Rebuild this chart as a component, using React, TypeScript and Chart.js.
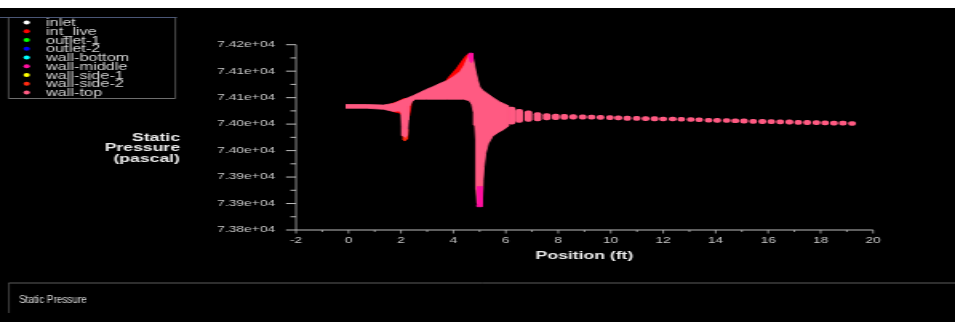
import React, { useEffect, useRef } from 'react';
import { Chart, registerables } from 'chart.js';

Chart.register(...registerables);

// ---------------- data ----------------
const zoneNames = ['inlet', 'int_live', 'outlet-1', 'outlet-2', 'wall-bottom', 'wall-middle', 'wall-side-1', 'wall-side-2', 'wall-top'];
const zoneColors = ['#ffffff', '#ff0000', '#00ff00', '#0000ff', '#00ffff', '#ff10a0', '#ffff00', '#ff2a10', '#ff5a82'];

const xTickValues = [-2, 0, 2, 4, 6, 8, 10, 12, 14, 16, 18, 20];
const xTickLabels = ['-2', '0', '2', '4', '6', '8', '10', '12', '14', '16', '18', '20'];
const yTickValues = [73800, 73850, 73900, 73950, 74000, 74050, 74100, 74150];
const yTickLabels = ['7.38e+04', '7.39e+04', '7.39e+04', '7.40e+04', '7.40e+04', '7.41e+04', '7.41e+04', '7.42e+04'];

const xAxisTitle = 'Position (ft)';
const yAxisTitleLines = ['Static', 'Pressure', '(pascal)'];
const footerText = 'Static Pressure';

// wall-top: outline of the dense point band (position ft, pressure Pa)
const wallTopBand: [number, number][] = [
  [-0.11, 74037], [0.69, 74037], [1.33, 74036], [1.71, 74039], [1.96, 74044], [2.22, 74049], [2.47, 74054],
  [2.73, 74060], [2.98, 74066], [3.23, 74071], [3.49, 74077], [3.74, 74082], [4.0, 74090], [4.25, 74099],
  [4.4, 74110], [4.51, 74122], [4.58, 74130], [4.7, 74131], [4.76, 74121], [4.84, 74102], [4.93, 74083],
  [5.01, 74070], [5.12, 74064], [5.27, 74059], [5.52, 74050], [5.78, 74042], [6.09, 74035],
  [6.09, 73996], [5.93, 73990], [5.71, 73984], [5.5, 73977], [5.33, 73963], [5.23, 73945], [5.17, 73920],
  [5.13, 73894], [5.1, 73863], [5.09, 73850], [4.91, 73850], [4.87, 73876], [4.86, 73920], [4.85, 73970],
  [4.82, 73998], [4.77, 74022], [4.7, 74037], [4.61, 74044], [4.38, 74047], [3.74, 74047], [2.98, 74047],
  [2.54, 74047], [2.41, 74042], [2.32, 74033], [2.28, 74008], [2.24, 73979], [2.17, 73975], [2.07, 73978],
  [2.03, 73995], [2.01, 74020], [1.94, 74025], [1.71, 74024], [1.33, 74028], [0.69, 74030], [-0.11, 74030],
];

// wall-top: separated point columns downstream (position, low edge, high edge)
const tailX = [6.22, 6.51, 6.86, 7.21, 7.56, 7.9, 8.23, 8.57, 8.93, 9.27, 9.61, 9.97, 10.29, 10.63, 10.99, 11.33, 11.67, 12.0, 12.36, 12.69, 13.05, 13.37, 13.73, 14.06, 14.42, 14.75, 15.08, 15.43, 15.78, 16.12, 16.46, 16.81, 17.15, 17.49, 17.84, 18.17, 18.51, 18.85, 19.2];
const tailHigh = [74032, 74028, 74025, 74022, 74020, 74019, 74018.5, 74018, 74017.5, 74017, 74016.5, 74016, 74015.5, 74015, 74014.5, 74014, 74014, 74013.5, 74013.5, 74013, 74012.5, 74012, 74011, 74011, 74010.5, 74010, 74010, 74009, 74009, 74008.5, 74008, 74008, 74007, 74007, 74006.5, 74006, 74005.5, 74005.5, 74005];
const tailLow = [74000, 74003, 74005, 74006, 74008, 74008.5, 74009, 74009.5, 74009.5, 74009.5, 74009, 74008.5, 74008, 74007, 74007, 74006.5, 74006, 74006, 74006, 74005.5, 74005, 74004.5, 74003.5, 74003, 74003, 74002.5, 74002, 74001.5, 74001, 74001, 74000.5, 74000, 73999.5, 73999, 73999, 73998.5, 73998, 73998, 73997.5];

// int_live: fringe regions
const intLivePeak: [number, number][] = [
  [3.7, 74080], [3.81, 74088], [4.12, 74105], [4.35, 74121], [4.48, 74129], [4.58, 74133], [4.66, 74133],
  [4.62, 74110], [4.45, 74090], [4.1, 74078], [3.7, 74074],
];
const intLiveFlare: [number, number][] = [
  [1.55, 74037], [1.85, 74042], [2.1, 74048], [2.4, 74049], [2.38, 74034], [2.31, 74015], [2.2, 74012],
  [2.08, 74016], [1.95, 74021], [1.75, 74023], [1.55, 74027],
];
// wall-side-2: dip tip
const wallSide2Dip: [number, number][] = [
  [2.04, 73990], [2.26, 73990], [2.24, 73972], [2.14, 73968], [2.06, 73972],
];
// wall-middle: extremes
const wallMiddlePeak: [number, number][] = [
  [4.56, 74127], [4.6, 74134], [4.72, 74134], [4.74, 74120], [4.68, 74116], [4.61, 74120],
];
const wallMiddleSpike: [number, number][] = [
  [4.89, 73882], [5.11, 73882], [5.1, 73847], [5.08, 73844], [4.93, 73844], [4.9, 73848],
];

// ---------------- layout / style ----------------
const FONT = '"Liberation Sans", Arial, Helvetica, sans-serif';
const CANVAS_W = 597;
const CANVAS_H = 314;
const SX = 955 / CANVAS_W;
const AXIS_COLOR = '#bdbdbd';
const TICK_TEXT = '#c8c8c8';
const TITLE_TEXT = '#ececec';
const LEGEND_TEXT = '#d2d2d2';
const TICK_FONT = 8.6;

const xy = (pts: [number, number][]) => pts.map(([x, y]) => ({ x, y }));

const polygon = (label: string, pts: [number, number][], color: string, order: number) => ({
  type: 'line' as const,
  label,
  data: xy(pts),
  showLine: true,
  fill: 'shape',
  backgroundColor: color,
  borderColor: color,
  borderWidth: 0.8,
  pointRadius: 0,
  pointHoverRadius: 0,
  tension: 0,
  order,
});

const decor = {
  id: 'decor',
  afterDraw(chart: any) {
    const ctx: CanvasRenderingContext2D = chart.ctx;
    const xs = chart.scales.x;
    const ys = chart.scales.y;
    const xMin = xTickValues[0];
    const xMax = xTickValues[xTickValues.length - 1];
    const yMin = yTickValues[0];
    const yMax = yTickValues[yTickValues.length - 1];
    const x0 = xs.getPixelForValue(xMin);
    const x1 = xs.getPixelForValue(xMax);
    const yb = ys.getPixelForValue(yMin);
    const yt = ys.getPixelForValue(yMax);
    const seg = (a: number, b: number, c: number, d: number) => {
      ctx.beginPath();
      ctx.moveTo(a, b);
      ctx.lineTo(c, d);
      ctx.stroke();
    };
    ctx.save();
    ctx.strokeStyle = AXIS_COLOR;
    // y axis
    ctx.lineWidth = 0.75;
    seg(x0, yt, x0, yb);
    // y ticks (major + minor)
    ctx.lineWidth = 1;
    for (let i = 0; i < yTickValues.length; i++) {
      const p = ys.getPixelForValue(yTickValues[i]);
      seg(x0 - 6.25, p, x0, p);
      if (i < yTickValues.length - 1) {
        const m = ys.getPixelForValue((yTickValues[i] + yTickValues[i + 1]) / 2);
        seg(x0 - 3.5, m, x0, m);
      }
    }
    // x axis
    seg(x0, yb, x1, yb);
    ctx.lineWidth = 0.75;
    for (let i = 0; i < xTickValues.length; i++) {
      const p = xs.getPixelForValue(xTickValues[i]);
      seg(p, yb, p, yb + 3.5);
      if (i < xTickValues.length - 1) {
        const m = xs.getPixelForValue((xTickValues[i] + xTickValues[i + 1]) / 2);
        seg(m, yb, m, yb + 2);
      }
    }
    // y axis title
    ctx.fillStyle = TITLE_TEXT;
    ctx.font = `bold 11px ${FONT}`;
    ctx.textAlign = 'right';
    ctx.textBaseline = 'middle';
    yAxisTitleLines.forEach((t, i) => ctx.fillText(t, 112.5, 129.7 + i * 10.7));

    // legend box
    ctx.strokeStyle = '#4a5676';
    ctx.lineWidth = 1;
    seg(0, 9.5, 110.6, 9.5);
    ctx.strokeStyle = '#6e6e6e';
    ctx.lineWidth = 0.7;
    seg(5.4, 9.5, 5.4, 90.5);
    seg(109.6, 9.5, 109.6, 90.5);
    ctx.lineWidth = 1;
    seg(5.4, 90.5, 109.6, 90.5);
    ctx.font = `10.2px ${FONT}`;
    ctx.textAlign = 'left';
    zoneNames.forEach((name, i) => {
      const y = 15 + i * 8.75;
      ctx.fillStyle = zoneColors[i];
      ctx.beginPath();
      ctx.arc(16.7, y - 0.4, 2, 0, Math.PI * 2);
      ctx.fill();
      ctx.fillStyle = LEGEND_TEXT;
      ctx.fillText(name, 28.75, y + 0.3);
    });

    // bottom panel
    ctx.strokeStyle = '#5c5c5c';
    ctx.lineWidth = 1;
    seg(5.4, 275, CANVAS_W, 275);
    ctx.lineWidth = 0.7;
    seg(5.6, 275, 5.6, 305);
    // footer text drawn unstretched
    ctx.save();
    ctx.scale(1 / SX, 1);
    ctx.fillStyle = '#dcdcdc';
    ctx.font = `10px ${FONT}`;
    ctx.textAlign = 'left';
    ctx.textBaseline = 'middle';
    ctx.fillText(footerText, 19, 292);
    ctx.restore();

    ctx.restore();
  },
};

export default function App() {
  const ref = useRef<HTMLCanvasElement>(null);

  useEffect(() => {
    const pink = zoneColors[8];
    const datasets: any[] = [
      { type: 'scatter', label: zoneNames[0], data: [], backgroundColor: zoneColors[0], pointRadius: 2, order: 3 },
      polygon(zoneNames[1], intLivePeak, zoneColors[1], 2),
      polygon(zoneNames[1], intLiveFlare, zoneColors[1], 2),
      { type: 'scatter', label: zoneNames[2], data: [], backgroundColor: zoneColors[2], pointRadius: 2, order: 3 },
      { type: 'scatter', label: zoneNames[3], data: [], backgroundColor: zoneColors[3], pointRadius: 2, order: 3 },
      { type: 'scatter', label: zoneNames[4], data: [], backgroundColor: zoneColors[4], pointRadius: 2, order: 3 },
      polygon(zoneNames[5], wallMiddlePeak, zoneColors[5], 0),
      polygon(zoneNames[5], wallMiddleSpike, zoneColors[5], 0),
      { type: 'scatter', label: zoneNames[6], data: [], backgroundColor: zoneColors[6], pointRadius: 2, order: 3 },
      polygon(zoneNames[7], wallSide2Dip, zoneColors[7], 2),
      polygon(zoneNames[8], wallTopBand, pink, 1),
      {
        type: 'bar',
        label: zoneNames[8],
        data: tailX.map((x, i) => ({ x, y: [tailLow[i], tailHigh[i]] })),
        backgroundColor: pink,
        borderWidth: 0,
        borderSkipped: false,
        borderRadius: 2,
        barThickness: 4.2,
        grouped: false,
        order: 1,
      },
    ];

    const chart = new Chart(ref.current as HTMLCanvasElement, {
      type: 'scatter',
      data: { datasets },
      options: {
        animation: false,
        responsive: false,
        maintainAspectRatio: false,
        devicePixelRatio: 1,
        events: [],
        layout: { padding: { left: 85.04, right: 51.26, top: 36.7, bottom: 57 } },
        plugins: {
          legend: { display: false },
          tooltip: { enabled: false },
          title: { display: false },
        },
        scales: {
          x: {
            type: 'linear',
            min: xTickValues[0],
            max: xTickValues[xTickValues.length - 1],
            offset: false,
            afterFit: (s: any) => { s.height = 35; },
            afterBuildTicks: (s: any) => { s.ticks = xTickValues.map((v) => ({ value: v })); },
            grid: { display: false, drawTicks: false, offset: false },
            border: { display: false },
            ticks: {
              autoSkip: false,
              maxRotation: 0,
              padding: 5.8,
              color: TICK_TEXT,
              font: { family: FONT, size: TICK_FONT },
              callback: (_v: any, i: number) => xTickLabels[i],
            },
            title: {
              display: true,
              text: xAxisTitle,
              color: TITLE_TEXT,
              font: { family: FONT, size: 11, weight: 'bold' },
              padding: { top: 0, bottom: 2.4 },
            },
          },
          y: {
            type: 'linear',
            min: yTickValues[0],
            max: yTickValues[yTickValues.length - 1],
            beginAtZero: false,
            afterFit: (s: any) => { s.width = 100; },
            afterBuildTicks: (s: any) => { s.ticks = yTickValues.map((v) => ({ value: v })); },
            grid: { display: false, drawTicks: false },
            border: { display: false },
            ticks: {
              autoSkip: false,
              padding: 13.1,
              color: TICK_TEXT,
              font: { family: FONT, size: TICK_FONT },
              callback: (_v: any, i: number) => yTickLabels[i],
            },
          },
        },
      } as any,
      plugins: [decor],
    });
    return () => chart.destroy();
  }, []);

  return (
    <div style={{ position: 'absolute', left: 0, top: 8, width: 955, height: 314, background: '#000', overflow: 'hidden' }}>
      <div style={{ width: CANVAS_W, height: CANVAS_H, transform: `scaleX(${SX})`, transformOrigin: '0 0' }}>
        <canvas ref={ref} width={CANVAS_W} height={CANVAS_H} style={{ display: 'block' }} />
      </div>
    </div>
  );
}
